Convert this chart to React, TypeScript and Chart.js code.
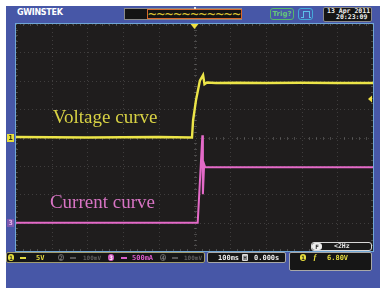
import React, { useEffect, useRef } from "react";
import { Chart, registerables } from "chart.js";
Chart.register(...registerables);

// ---- data (oscilloscope capture: 100 ms/div, CH1 5 V/div, CH3 500 mA/div) ----
const voltageTimeMs = [-500, -300, -100, -7, -4, 4, 15, 24, 28, 35, 60, 120, 200, 300, 400, 500];
const voltageV = [0.1, 0.0, 0.1, 0.0, 3.0, 6.5, 10.0, 11.0, 9.4, 9.7, 9.6, 9.65, 9.6, 9.65, 9.6, 9.6];
const currentTimeMs = [-500, -200, 9, 20, 22, 23.5, 27, 30, 60, 200, 500];
const currentMA = [0, 0, 0, 1300, 1540, 500, 1030, 975, 975, 975, 975];

const timeDivsMs = [-500, -400, -300, -200, -100, 0, 100, 200, 300, 400, 500];
const voltDivsV = [-20, -15, -10, -5, 0, 5, 10, 15, 20];
const triggerLevelV = 6.8;

const YELLOW = "#ece548";
const PINK = "#e46ac8";
const MONO = '"DejaVu Sans Mono", monospace';

const scopePlugin = {
  id: "scope",
  beforeDatasetsDraw(chart: any) {
    const { ctx, chartArea: a, scales } = chart;
    const xs = scales.x, ys = scales.yV;
    ctx.save();
    ctx.fillStyle = "#1f1d1d";
    ctx.fillRect(a.left, a.top, a.right - a.left, a.bottom - a.top);
    // dotted graticule
    ctx.strokeStyle = "rgba(110,110,110,0.42)";
    ctx.lineWidth = 1;
    ctx.setLineDash([1, 3]);
    timeDivsMs.forEach((t) => {
      const x = Math.round(xs.getPixelForValue(t)) + 0.5;
      ctx.beginPath(); ctx.moveTo(x, a.top); ctx.lineTo(x, a.bottom); ctx.stroke();
    });
    voltDivsV.forEach((v) => {
      const y = Math.round(ys.getPixelForValue(v)) + 0.5;
      ctx.beginPath(); ctx.moveTo(a.left, y); ctx.lineTo(a.right, y); ctx.stroke();
    });
    ctx.setLineDash([]);
    // minor ticks on centre lines and edges
    ctx.strokeStyle = "rgba(120,120,120,0.5)";
    const cx = Math.round(xs.getPixelForValue(0)) + 0.5;
    const cy = Math.round(ys.getPixelForValue(0)) + 0.5;
    for (let i = 0; i < timeDivsMs.length - 1; i++) {
      for (let k = 1; k < 5; k++) {
        const t = timeDivsMs[i] + ((timeDivsMs[i + 1] - timeDivsMs[i]) * k) / 5;
        const x = Math.round(xs.getPixelForValue(t)) + 0.5;
        ctx.beginPath();
        ctx.moveTo(x, cy - 1.5); ctx.lineTo(x, cy + 1.5);
        ctx.moveTo(x, a.top); ctx.lineTo(x, a.top + 2);
        ctx.moveTo(x, a.bottom); ctx.lineTo(x, a.bottom - 2);
        ctx.stroke();
      }
    }
    for (let i = 0; i < voltDivsV.length - 1; i++) {
      for (let k = 1; k < 5; k++) {
        const v = voltDivsV[i] + ((voltDivsV[i + 1] - voltDivsV[i]) * k) / 5;
        const y = Math.round(ys.getPixelForValue(v)) + 0.5;
        ctx.beginPath();
        ctx.moveTo(cx - 1.5, y); ctx.lineTo(cx + 1.5, y);
        ctx.moveTo(a.left, y); ctx.lineTo(a.left + 2, y);
        ctx.moveTo(a.right, y); ctx.lineTo(a.right - 2, y);
        ctx.stroke();
      }
    }
    ctx.restore();
  },
  afterDatasetsDraw(chart: any) {
    const { ctx, chartArea: a, scales } = chart;
    const xs = scales.x, ys = scales.yV, yi = scales.yI;
    ctx.save();
    // labels
    ctx.font = '19px "Liberation Serif", serif';
    ctx.textBaseline = "alphabetic";
    ctx.textAlign = "left";
    ctx.fillStyle = "#d8d244";
    ctx.fillText("Voltage curve", xs.getPixelForValue(-397), ys.getPixelForValue(2.55));
    ctx.fillStyle = "#d874c4";
    ctx.fillText("Current curve", xs.getPixelForValue(-405), yi.getPixelForValue(257));
    // border
    ctx.strokeStyle = "#6fa6d6";
    ctx.lineWidth = 1;
    ctx.strokeRect(a.left - 0.5, a.top - 0.5, a.right - a.left + 1, a.bottom - a.top + 1);
    // channel ground markers
    const y1 = Math.round(ys.getPixelForValue(0));
    ctx.fillStyle = "#e8df3c";
    ctx.fillRect(a.left - 9, y1 - 4, 7, 8);
    ctx.fillStyle = "#2a2a10";
    ctx.font = "bold 7px " + MONO;
    ctx.textAlign = "center";
    ctx.textBaseline = "middle";
    ctx.fillText("1", a.left - 5.5, y1 + 0.5);
    const y3 = Math.round(yi.getPixelForValue(0));
    ctx.fillStyle = "#7e58ae";
    ctx.fillRect(a.left - 9, y3 - 4, 7, 8);
    ctx.fillStyle = "#e8b8ea";
    ctx.fillText("3", a.left - 5.5, y3 + 0.5);
    // trigger position marker
    const tx = xs.getPixelForValue(0);
    ctx.fillStyle = "#f0e040";
    ctx.beginPath();
    ctx.moveTo(tx - 4, a.top); ctx.lineTo(tx + 4, a.top); ctx.lineTo(tx, a.top + 5); ctx.closePath(); ctx.fill();
    // trigger level marker
    const ty = ys.getPixelForValue(triggerLevelV);
    ctx.beginPath();
    ctx.moveTo(a.right - 1, ty - 3.5); ctx.lineTo(a.right - 1, ty + 3.5); ctx.lineTo(a.right - 5, ty); ctx.closePath(); ctx.fill();
    ctx.restore();
  },
};

function ScopeChart() {
  const ref = useRef<HTMLCanvasElement>(null);
  useEffect(() => {
    const chart = new Chart(ref.current!, {
      type: "line",
      data: {
        datasets: [
          {
            label: "Voltage",
            data: voltageTimeMs.map((t, i) => ({ x: t, y: voltageV[i] })),
            yAxisID: "yV",
            borderColor: YELLOW,
            borderWidth: 2.4,
            pointRadius: 0,
            tension: 0,
          },
          {
            label: "Current",
            data: currentTimeMs.map((t, i) => ({ x: t, y: currentMA[i] })),
            yAxisID: "yI",
            borderColor: PINK,
            borderWidth: 2,
            pointRadius: 0,
            tension: 0,
          },
        ],
      },
      options: {
        animation: false,
        responsive: false,
        devicePixelRatio: 1,
        layout: { padding: { left: 10, right: 7, top: 1, bottom: 1 } },
        plugins: { legend: { display: false }, tooltip: { enabled: false } },
        scales: {
          x: { type: "linear", min: -500, max: 500, display: false },
          yV: { type: "linear", min: -20, max: 20, display: false },
          yI: { type: "linear", min: -500, max: 3500, display: false },
        },
      },
      plugins: [scopePlugin],
    });
    return () => chart.destroy();
  }, []);
  return (
    <canvas
      ref={ref}
      width={374}
      height={229}
      style={{ position: "absolute", left: 6, top: 23, width: 374, height: 229 }}
    />
  );
}

const abs = (l: number, t: number, extra: React.CSSProperties = {}): React.CSSProperties => ({
  position: "absolute",
  left: l,
  top: t,
  ...extra,
});

const txt = (l: number, t: number, color: string, size = 7, extra: React.CSSProperties = {}): React.CSSProperties =>
  abs(l, t, { color, fontFamily: MONO, fontWeight: "bold", fontSize: size, lineHeight: `${size + 1}px`, whiteSpace: "nowrap", ...extra });

function Pill({ l, t, bg, fg, ch, outline }: { l: number; t: number; bg: string; fg: string; ch: string; outline?: boolean }) {
  return (
    <div
      style={abs(l, t, {
        width: 6,
        height: 7,
        borderRadius: 3,
        background: outline ? "transparent" : bg,
        border: outline ? `1px solid ${bg}` : "none",
        boxSizing: "border-box",
        color: fg,
        fontFamily: MONO,
        fontWeight: "bold",
        fontSize: 6,
        lineHeight: outline ? "5px" : "7px",
        textAlign: "center",
      })}
    >
      {ch}
    </div>
  );
}

const Bar = ({ l, t, c }: { l: number; t: number; c: string }) => (
  <div style={abs(l, t, { width: 6, height: 2, background: c })} />
);

export default function App() {
  return (
    <div style={abs(0, 0, { width: 380, height: 289, background: "#fff", overflow: "hidden" })}>
      <div style={abs(6, 6, { width: 374, height: 282, background: "#4757a7" })} />
      {/* header */}
      <div style={abs(17, 8, { color: "#fff", fontFamily: '"DejaVu Sans", sans-serif', fontWeight: "bold", fontSize: 8, letterSpacing: -0.3, lineHeight: "10px" })}>
        GWINSTEK
      </div>
      <div style={abs(124, 8, { width: 118, height: 12, background: "#141414", border: "1px solid #8a8a8a", boxSizing: "border-box" })} />
      <div style={abs(147, 9, { width: 95, height: 10, border: "1px solid #d8682a", boxSizing: "border-box", overflow: "hidden" })}>
        <div style={{ color: "#d8c030", fontFamily: MONO, fontSize: 14, lineHeight: "9px", letterSpacing: 0, whiteSpace: "nowrap", marginLeft: 0 }}>
          ~~~~~~~~~~~~
        </div>
      </div>
      <div style={abs(194, 7, { width: 2, height: 2, background: "#e8e8e8" })} />
      <div style={abs(270, 8, { width: 24, height: 12, border: "1px solid #56b868", borderRadius: 3, boxSizing: "border-box", color: "#66c878", fontFamily: '"DejaVu Sans", sans-serif', fontWeight: "bold", fontSize: 7, lineHeight: "10px", textAlign: "center" })}>
        Trig?
      </div>
      <div style={abs(298, 8, { width: 15, height: 12, border: "1px solid #44a8d8", borderRadius: 3, boxSizing: "border-box" })}>
        <div style={{ position: "absolute", left: 4, top: 2, width: 5, height: 6, borderTop: "1px solid #5cc0ea", borderLeft: "1px solid #5cc0ea", borderRight: "1px solid #5cc0ea" }} />
        <div style={{ position: "absolute", left: 2, top: 8, width: 3, height: 1, background: "#5cc0ea" }} />
        <div style={{ position: "absolute", left: 10, top: 8, width: 2, height: 1, background: "#5cc0ea" }} />
      </div>
      <div style={abs(323, 7, { width: 49, height: 15, background: "#151515", border: "1px solid #8a8a8a", borderRadius: 2, boxSizing: "border-box" })} />
      <div style={txt(327, 7.5, "#f0f0f0", 6.5)}>13 Apr 2011</div>
      <div style={txt(336, 14, "#f0f0f0", 6.5)}>20:23:09</div>

      <ScopeChart />

      {/* frequency box */}
      <div style={abs(311, 242, { width: 61, height: 9, background: "#1a1a1a", border: "1px solid #d8d8d8", borderRadius: 3, boxSizing: "border-box" })} />
      <div style={abs(312, 243, { width: 10, height: 7, background: "#eeeeee", borderRadius: 3, color: "#222", fontFamily: MONO, fontWeight: "bold", fontSize: 6, lineHeight: "7px", textAlign: "center" })}>F</div>
      <div style={txt(334, 242.5, "#e8e8e8", 6.5)}>&lt;2Hz</div>

      {/* status bar left */}
      <div style={abs(6, 252, { width: 199, height: 11, background: "#161616", border: "1px solid #a09c70", borderRadius: 2, boxSizing: "border-box" })} />
      <Pill l={8} t={254} bg="#e8df3c" fg="#222" ch="1" />
      <Bar l={20} t={257} c="#e0d840" />
      <div style={txt(36, 253.5, "#e6dd40")}>5V</div>
      <Pill l={58} t={254} bg="#666" fg="#777" ch="2" outline />
      <Bar l={70} t={257} c="#555" />
      <div style={txt(83, 253.5, "#5e5e5e", 6)}>100mV</div>
      <Pill l={108} t={254} bg="#d058c0" fg="#fff" ch="3" />
      <Bar l={121} t={257} c="#d860c8" />
      <div style={txt(132, 253.5, "#dc5ccc")}>500mA</div>
      <Pill l={160} t={254} bg="#666" fg="#777" ch="4" outline />
      <Bar l={172} t={257} c="#555" />
      <div style={txt(184, 253.5, "#5e5e5e", 6)}>100mV</div>

      {/* status bar middle */}
      <div style={abs(207, 252, { width: 79, height: 11, background: "#161616", border: "1px solid #a8a8a8", borderRadius: 2, boxSizing: "border-box" })} />
      <div style={txt(218, 253.5, "#eeeeee")}>100ms</div>
      <div style={abs(242, 254, { width: 6, height: 7, background: "#d8d8d8", borderRadius: 1, color: "#222", fontFamily: MONO, fontWeight: "bold", fontSize: 6, lineHeight: "7px", textAlign: "center" })}>H</div>
      <div style={txt(254, 253.5, "#eeeeee")}>0.000s</div>

      {/* status bar right */}
      <div style={abs(289, 252, { width: 83, height: 19, background: "#161616", border: "1px solid #a8a8a8", borderRadius: 2, boxSizing: "border-box" })} />
      <Pill l={300} t={254} bg="#e8df3c" fg="#222" ch="1" />
      <div style={txt(313, 253, "#e6dd40", 8, { fontStyle: "italic", fontFamily: '"Liberation Serif", serif' })}>ƒ</div>
      <div style={txt(327, 253.5, "#e6dd40")}>6.80V</div>
    </div>
  );
}
